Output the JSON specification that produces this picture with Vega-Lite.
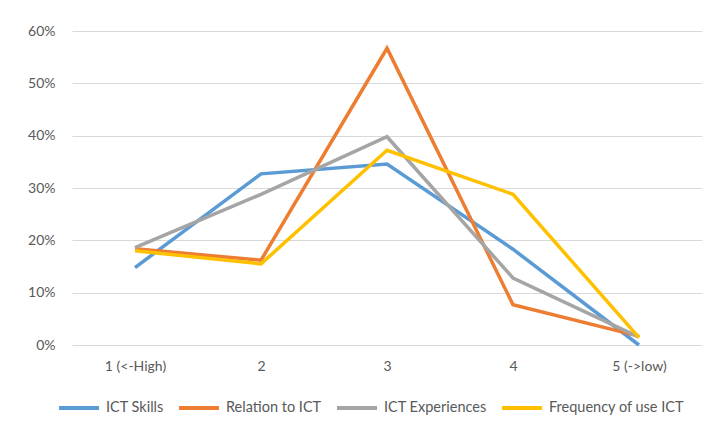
{
  "$schema": "https://vega.github.io/schema/vega-lite/v6.json",
  "width": 630,
  "height": 314,
  "autosize": {"type": "none"},
  "padding": {"left": 72, "top": 31, "right": 8, "bottom": 83},
  "background": "white",
  "config": {
    "font": "Lato",
    "view": {"stroke": null},
    "axis": {"labelFont": "Lato", "labelColor": "#595959", "labelFontSize": 14}
  },
  "data": {
    "values": [
      {"level": "1 (<-High)", "series": "ICT Skills", "value": 0.148},
      {"level": "2", "series": "ICT Skills", "value": 0.327},
      {"level": "3", "series": "ICT Skills", "value": 0.346},
      {"level": "4", "series": "ICT Skills", "value": 0.183},
      {"level": "5 (->low)", "series": "ICT Skills", "value": 0.0},
      {"level": "1 (<-High)", "series": "Relation to ICT", "value": 0.184},
      {"level": "2", "series": "Relation to ICT", "value": 0.162},
      {"level": "3", "series": "Relation to ICT", "value": 0.567},
      {"level": "4", "series": "Relation to ICT", "value": 0.077},
      {"level": "5 (->low)", "series": "Relation to ICT", "value": 0.017},
      {"level": "1 (<-High)", "series": "ICT Experiences", "value": 0.186},
      {"level": "2", "series": "ICT Experiences", "value": 0.288},
      {"level": "3", "series": "ICT Experiences", "value": 0.398},
      {"level": "4", "series": "ICT Experiences", "value": 0.128},
      {"level": "5 (->low)", "series": "ICT Experiences", "value": 0.015},
      {"level": "1 (<-High)", "series": "Frequency of use ICT", "value": 0.180},
      {"level": "2", "series": "Frequency of use ICT", "value": 0.155},
      {"level": "3", "series": "Frequency of use ICT", "value": 0.372},
      {"level": "4", "series": "Frequency of use ICT", "value": 0.288},
      {"level": "5 (->low)", "series": "Frequency of use ICT", "value": 0.014}
    ]
  },
  "mark": {"type": "line", "strokeWidth": 3.5, "strokeJoin": "miter", "strokeCap": "butt"},
  "encoding": {
    "x": {
      "field": "level",
      "type": "ordinal",
      "sort": ["1 (<-High)", "2", "3", "4", "5 (->low)"],
      "scale": {"type": "point", "padding": 0.5},
      "axis": {"title": null, "labelAngle": 0, "domain": false, "ticks": false, "labelPadding": 14, "grid": false, "labelOverlap": false}
    },
    "y": {
      "field": "value",
      "type": "quantitative",
      "scale": {"domain": [0, 0.6], "nice": false},
      "axis": {"title": null, "format": ".0%", "values": [0, 0.1, 0.2, 0.3, 0.4, 0.5, 0.6], "domain": false, "ticks": false, "labelPadding": 17, "labelOverlap": false, "gridColor": "#d9d9d9", "gridWidth": 1}
    },
    "color": {
      "field": "series",
      "type": "nominal",
      "sort": ["ICT Skills", "Relation to ICT", "ICT Experiences", "Frequency of use ICT"],
      "scale": {
        "domain": ["ICT Skills", "Relation to ICT", "ICT Experiences", "Frequency of use ICT"],
        "range": ["#5B9BD5", "#ED7D31", "#A5A5A5", "#FFC000"]
      },
      "legend": {
        "title": null,
        "orient": "none",
        "direction": "horizontal",
        "legendX": -15,
        "legendY": 355,
        "symbolType": "stroke",
        "symbolSize": 1600,
        "symbolStrokeWidth": 4,
        "labelFontSize": 14.5,
        "labelColor": "#595959",
        "labelFont": "Lato",
        "labelOffset": 5,
        "columnPadding": 7,
        "labelLimit": 300
      }
    }
  }
}
